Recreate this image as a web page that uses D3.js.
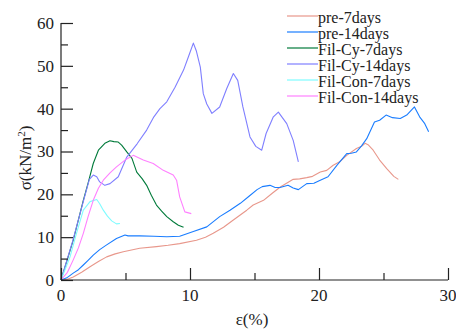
<!DOCTYPE html>
<meta charset="utf-8">
<style>
    body { margin: 0; background: #fff; }
    svg text { font-family: "Liberation Serif", "Times New Roman", serif; fill: #222; }
    .axis line, .axis path { stroke: #222; stroke-width: 1.2px; }
    .curve { fill: none; stroke-width: 1.1px; stroke-linejoin: round; }
</style>
<svg width="456" height="329"></svg>
<script src="https://d3js.org/d3.v7.min.js"></script>
<script>
    // strain (%) , stress (kN/m2) pairs
    var pre7 = [[0,0],[0.5,0.2],[0.95,0.7],[1.6,1.8],[2.25,3.1],[2.9,4.3],[3.54,5.4],[4.2,6.1],[4.83,6.6],[6.1,7.4],
        [7.4,7.8],[8.3,8.1],[9.2,8.5],[10.5,9.3],[11.2,10],[11.8,10.9],[12.6,12.3],[13.36,14],[14.4,16.3],
        [14.9,17.5],[15.7,18.6],[16.4,20.3],[17,21.7],[18,23.5],[18.5,23.6],[19.05,23.9],[19.5,24.2],
        [20.1,25.2],[20.6,25.6],[21.1,26.8],[21.6,27.6],[22.15,29.1],[22.9,30.7],[23.3,31.2],[23.57,31.9],
        [23.8,31.6],[24.2,30.3],[24.7,28],[25.25,26],[25.8,24.2],[26.15,23.5]];
    var pre14 = [[0,0],[0.5,0.6],[0.95,1.6],[1.35,2.4],[1.73,3.5],[2.1,4.6],[2.5,5.8],[3.0,7.1],[3.54,8.2],
        [4.3,9.7],[4.96,10.5],[5.2,10.3],[6.1,10.3],[7.2,10.2],[8.2,10.1],[9.2,10.2],[10.26,11.3],[11.3,12.4],
        [12.3,14.8],[13.1,16.3],[13.9,17.9],[14.6,19.6],[15.2,21.1],[15.6,21.8],[16.2,22.1],[16.6,21.6],
        [16.98,21.6],[17.6,22.1],[18.0,21.5],[18.4,21.1],[19.05,22.5],[19.6,22.6],[20.1,23.3],[20.7,24.1],
        [21.4,26.8],[22.15,29.5],[22.5,29.6],[22.9,29.9],[23.3,31.3],[23.7,33],[24.3,36.9],[24.7,37.3],
        [25.2,38.5],[25.7,37.9],[26.3,37.7],[26.8,38.5],[27.4,40.4],[27.8,38.1],[28.2,36.5],[28.5,34.6]];
    var cy7 = [[0,0],[0.95,9.3],[1.73,18.6],[2.1,22.6],[2.5,27.2],[2.9,30.3],[3.4,31.9],[3.8,32.5],[4.1,32.3],
        [4.44,32.2],[4.7,31.5],[5.1,29.9],[5.5,28.4],[5.87,25.2],[6.3,23.6],[6.64,22.1],[7.0,19.8],[7.4,17.5],
        [7.8,16.1],[8.2,14.8],[8.7,13.6],[9.1,12.8],[9.5,12.3]];
    var cy14 = [[0,0],[0.9,9],[1.7,18],[2.2,23.5],[2.5,24.5],[2.77,24.1],[3.0,22.9],[3.4,22.1],[3.8,22.5],
        [4.44,24.1],[5.1,28.7],[5.9,31.8],[6.64,35],[7.2,38.1],[7.67,40],[8.2,41.6],[8.84,45],[9.5,49],
        [9.9,52.3],[10.26,55.3],[10.5,53.4],[10.8,49.7],[11.03,43.5],[11.3,41.1],[11.7,38.9],[12.3,40.4],
        [12.85,44.7],[13.36,48.2],[13.7,46.6],[14.1,40.4],[14.65,33.4],[15.1,31.2],[15.56,30.3],[15.9,34.2],
        [16.46,38.1],[16.85,39.2],[17.5,36.5],[18.0,32.6],[18.4,27.6]];
    var con7 = [[0,0],[0.7,5.4],[1.2,10.9],[1.73,16.3],[2.25,18.3],[2.77,18.8],[3.0,17.8],[3.28,16.3],
        [3.6,14.9],[3.93,13.8],[4.3,13.1],[4.57,13.2]];
    var con14 = [[0,0],[0.5,1.8],[0.95,4.7],[1.35,7.5],[1.73,10.9],[2.1,14.8],[2.5,18.6],[2.9,21.4],[3.28,23.3],
        [3.8,25],[4.3,26.4],[4.96,28],[5.6,29.1],[6.38,28],[7.15,27.2],[7.93,25.6],[8.7,24.5],[8.96,23.3],
        [9.2,19.4],[9.6,15.9],[10.1,15.5]];

    var seriesNames = ["pre-7days", "pre-14days", "Fil-Cy-7days", "Fil-Cy-14days", "Fil-Con-7days", "Fil-Con-14days"];
    var seriesData = [pre7, pre14, cy7, cy14, con7, con14];
    var seriesColors = ["#e8978b", "#1a7dff", "#007a3a", "#7f7fff", "#7ffcff", "#ff80ff"];

    var xTicks = [0, 10, 20, 30];
    var yTicks = [0, 10, 20, 30, 40, 50, 60];

    var svg = d3.select("svg");
    var plotLeft = 61, plotRight = 448, plotTop = 23, plotBottom = 280;

    var x = d3.scaleLinear().domain([0, 30]).range([plotLeft, plotRight]);
    var y = d3.scaleLinear().domain([0, 60]).range([plotBottom, plotTop]);

    var line = d3.line()
        .x(function(d) { return x(d[0]); })
        .y(function(d) { return y(d[1]); });

    // curves
    svg.append("g")
        .selectAll("path")
        .data(seriesData)
        .enter().append("path")
        .attr("class", "curve")
        .attr("stroke", function(d, i) { return seriesColors[i]; })
        .attr("stroke-width", function(d, i) { return i == 1 ? 1.4 : 1.1; })
        .attr("d", line);

    // x axis, ticks pointing inward
    var gx = svg.append("g")
        .attr("class", "axis")
        .attr("transform", "translate(0," + plotBottom + ")");
    gx.call(d3.axisBottom(x).tickValues(d3.range(0, 31, 5)).tickSize(-7).tickFormat(""));
    gx.selectAll(".tick line").filter(function(d) { return d % 10 == 0; }).attr("y2", -12);
    gx.select(".domain").attr("d", "M" + plotLeft + ",0H" + plotRight);
    gx.selectAll(".lab")
        .data(xTicks)
        .enter().append("text")
        .attr("x", function(d) { return x(d); })
        .attr("y", 21)
        .attr("text-anchor", "middle")
        .style("font-size", "17px")
        .text(function(d) { return d; });

    var gy = svg.append("g")
        .attr("class", "axis")
        .attr("transform", "translate(" + plotLeft + ",0)");
    gy.call(d3.axisLeft(y).tickValues(d3.range(0, 61, 5)).tickSize(-7).tickFormat(""));
    gy.selectAll(".tick line").filter(function(d) { return d % 10 == 0; }).attr("x2", 12);
    gy.select(".domain").attr("d", "M0," + plotTop + "V" + plotBottom);
    gy.selectAll(".lab")
        .data(yTicks)
        .enter().append("text")
        .attr("x", -7)
        .attr("y", function(d) { return y(d); })
        .attr("dy", "0.35em")
        .attr("text-anchor", "end")
        .style("font-size", "17px")
        .text(function(d) { return d; });

    // axis titles
    svg.append("text")
        .attr("x", 252).attr("y", 325)
        .attr("text-anchor", "middle")
        .style("font-size", "17px")
        .text("ε(%)");

    var yt = svg.append("text")
        .attr("transform", "translate(31,158) rotate(-90)")
        .attr("text-anchor", "middle")
        .style("font-size", "17px");
    yt.append("tspan").text("σ(kN/m");
    yt.append("tspan").attr("dy", -6).style("font-size", "11px").text("2");
    yt.append("tspan").attr("dy", 6).text(")");

    // legend
    var lg = svg.append("g")
        .selectAll("g")
        .data(seriesNames)
        .enter().append("g")
        .attr("transform", function(d, i) { return "translate(287," + (16 + i * 16) + ")"; });
    lg.append("line")
        .attr("x1", 0).attr("x2", 31)
        .attr("stroke", function(d, i) { return seriesColors[i]; })
        .attr("stroke-width", 1.2);
    lg.append("text")
        .attr("x", 31).attr("y", 1)
        .attr("dy", "0.35em")
        .style("font-size", "16px")
        .text(function(d) { return d; });
</script>
